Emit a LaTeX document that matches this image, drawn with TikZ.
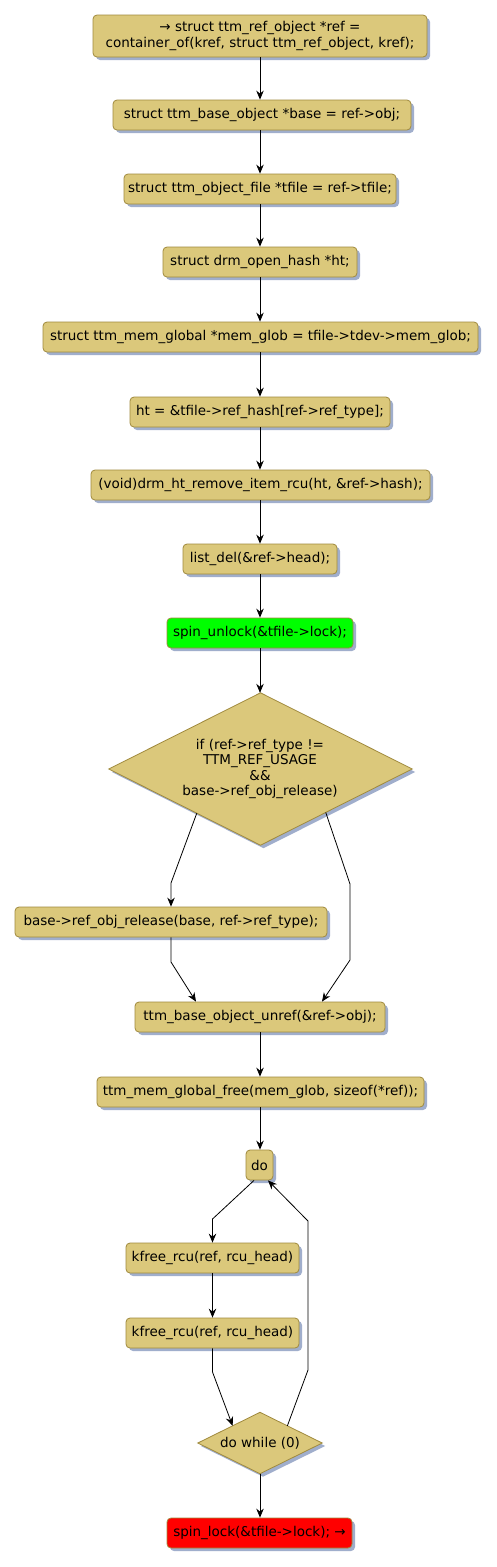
\documentclass[tikz,border=0pt]{standalone}
\usepackage{fontspec}
\setmainfont{DejaVu Sans}
\usetikzlibrary{arrows.meta,shadows,calc}
\definecolor{boxfill}{RGB}{219,200,123}
\definecolor{boxline}{RGB}{160,138,62}
\definecolor{shadowc}{RGB}{160,174,204}
\definecolor{gofill}{RGB}{0,255,0}
\definecolor{stopfill}{RGB}{255,0,0}
\tikzset{
  box/.style={draw=boxline, fill=boxfill, rounded corners=4pt, line width=0.8pt,
    minimum height=30pt, inner xsep=3pt, inner ysep=2pt, align=center,
    font=\fontsize{13.5}{15.5}\selectfont,
    drop shadow={shadow xshift=3pt, shadow yshift=-3pt, fill=shadowc, opacity=1}},
  dshape/.style={draw=boxline, fill=boxfill, line width=0.8pt,
    drop shadow={shadow xshift=3pt, shadow yshift=-3pt, fill=shadowc, opacity=1}},
  dtext/.style={align=center, inner sep=0pt, font=\fontsize{13.5}{15.5}\selectfont},
  flow/.style={draw=black, line width=0.8pt, -{Stealth[length=9pt,width=7.5pt,inset=3pt]}}
}
\begin{document}
\begin{tikzpicture}[x=1pt,y=-1pt]
\useasboundingbox[fill=white] (0,0) rectangle (496,1567);
\node[box, minimum width=334pt, minimum height=42pt] (n1) at (260,36) {→ struct ttm\_ref\_object *ref =\\ container\_of(kref, struct ttm\_ref\_object, kref);};
\node[box, minimum width=298pt] (n2) at (262,115) {struct ttm\_base\_object *base = ref->obj;};
\node[box, minimum width=272pt] (n3) at (260,189) {struct ttm\_object\_file *tfile = ref->tfile;};
\node[box, minimum width=194pt] (n4) at (260,262) {struct drm\_open\_hash *ht;};
\node[box, minimum width=435pt] (n5) at (260.5,337) {struct ttm\_mem\_global *mem\_glob = tfile->tdev->mem\_glob;};
\node[box, minimum width=260pt] (n6) at (260,412) {ht = \&tfile->ref\_hash[ref->ref\_type];};
\node[box, minimum width=339pt] (n7) at (260.5,485) {(void)drm\_ht\_remove\_item\_rcu(ht, \&ref->hash);};
\node[box, minimum width=154pt] (n8) at (260,559) {list\_del(\&ref->head);};
\node[box, fill=gofill, minimum width=186pt] (n9) at (260,633) {spin\_unlock(\&tfile->lock);};
% decision diamond
\node[dtext, minimum width=303pt, minimum height=152pt] (d1) at (260.5,769) {};
\path[dshape] (d1.north) -- (d1.east) -- (d1.south) -- (d1.west) -- cycle;
\node[dtext] (d1t) at (260,769) {if (ref->ref\_type !=\\TTM\_REF\_USAGE\\\&\&\\base->ref\_obj\_release)};
\node[box, minimum width=312pt] (n10) at (171,922) {base->ref\_obj\_release(base, ref->ref\_type);};
\node[box, minimum width=250pt] (n11) at (260,1017) {ttm\_base\_object\_unref(\&ref->obj);};
\node[box, minimum width=327pt] (n12) at (260.5,1092) {ttm\_mem\_global\_free(mem\_glob, sizeof(*ref));};
\node[box, minimum width=27pt, inner xsep=2pt] (n13) at (259.5,1165) {do};
\node[box, minimum width=173pt] (n14) at (212.5,1258) {kfree\_rcu(ref, rcu\_head)};
\node[box, minimum width=173pt] (n15) at (212.5,1333) {kfree\_rcu(ref, rcu\_head)};
% do-while diamond
\node[dtext, minimum width=124pt, minimum height=61pt] (d2) at (260,1443) {};
\path[dshape] (d2.north) -- (d2.east) -- (d2.south) -- (d2.west) -- cycle;
\node[dtext] (d2t) at (260,1443) {do while (0)};
\node[box, fill=stopfill, minimum width=185pt] (n16) at (259.5,1533) {spin\_lock(\&tfile->lock); →};
% connectors
\draw[flow] (n1.south) -- (n2.north -| n1.south);
\draw[flow] (n2.south -| n1.south) -- (n3.north);
\draw[flow] (n3.south) -- (n4.north);
\draw[flow] (n4.south) -- (n5.north -| n4.south);
\draw[flow] (n5.south -| n4.south) -- (n6.north);
\draw[flow] (n6.south) -- (n7.north -| n6.south);
\draw[flow] (n7.south -| n6.south) -- (n8.north);
\draw[flow] (n8.south) -- (n9.north);
\draw[flow] (n9.south) -- (d1.north -| n9.south);
\coordinate (dl) at ($(d1.west)!0.58!(d1.south)$);
\coordinate (dr) at ($(d1.east)!0.57!(d1.south)$);
\draw[flow] (dl) -- (171,883) -- (n10.north);
\draw[flow] (dr) -- (350,884) -- (350,960) -- (n11.north -| 322,0);
\draw[flow] (n10.south) -- (171,962) -- (n11.north -| 196,0);
\draw[flow] (n11.south) -- (n12.north -| n11.south);
\draw[flow] (n12.south -| n11.south) -- (n13.north -| n11.south);
\draw[flow] (n13.south -| 254,0) -- (212.5,1219) -- (n14.north);
\draw[flow] (n14.south) -- (n15.north);
\coordinate (dwl) at ($(d2.west)!0.56!(d2.north)$);
\coordinate (dwr) at ($(d2.north)!0.44!(d2.east)$);
\draw[flow] (n15.south) -- (212.5,1372) -- (dwl);
\draw[flow] (dwr) -- (308,1370) -- (308,1221) -- (n13.south -| 268,0);
\draw[flow] (d2.south) -- (n16.north -| d2.south);
\end{tikzpicture}
\end{document}
